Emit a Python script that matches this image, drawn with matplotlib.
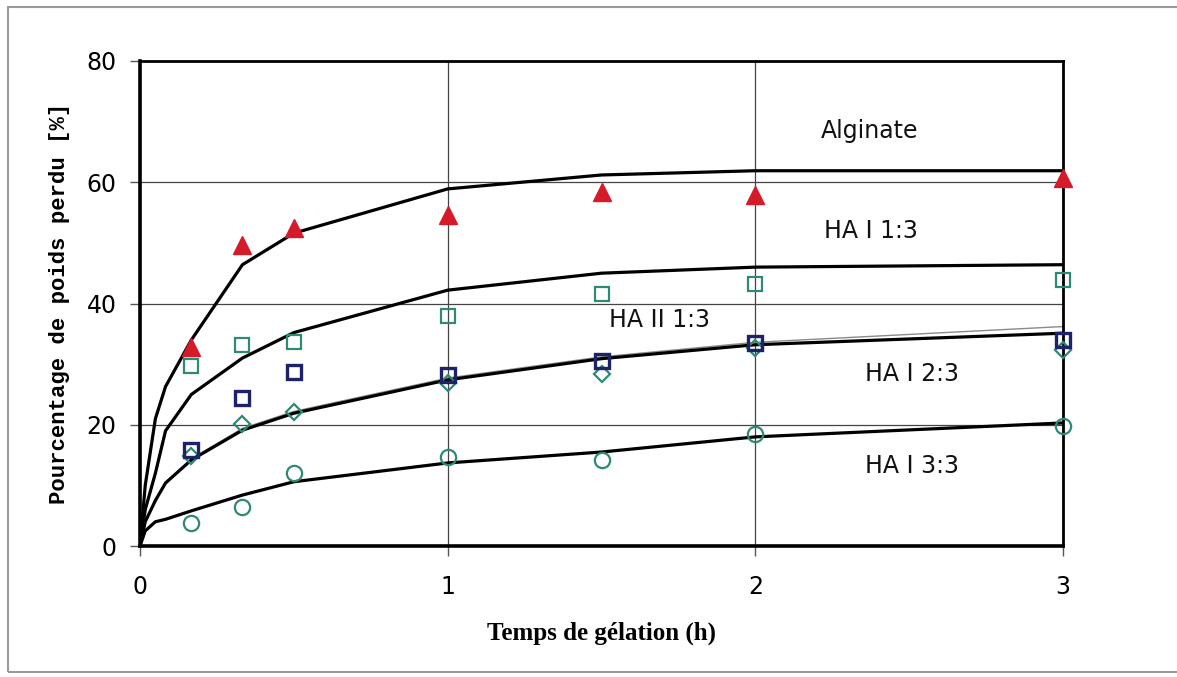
import matplotlib
matplotlib.use("Agg")
import matplotlib.pyplot as plt
from matplotlib.patches import Rectangle

# temps des mesures (h)
temps = [0.167, 0.333, 0.5, 1, 1.5, 2, 3]
alginate = [32.8, 49.7, 52.5, 54.6, 58.4, 57.9, 60.7]
ha1_13 = [29.7, 33.2, 33.7, 38.0, 41.6, 43.2, 43.9]
ha2_13 = [15.8, 24.4, 28.7, 28.2, 30.5, 33.5, 34.0]
ha1_23 = [14.9, 20.1, 22.1, 26.9, 28.4, 32.7, 32.3]
ha1_33 = [3.8, 6.4, 12.0, 14.7, 14.2, 18.5, 19.8]

# courbes du modèle
temps_mod = [0, 0.017, 0.05, 0.083, 0.167, 0.333, 0.5, 1, 1.5, 2, 3]
mod_alginate = [0, 10, 21, 26.3, 34, 46.4, 51.6, 58.9, 61.2, 61.9, 61.9]
mod_ha1_13 = [0, 6, 12, 19, 25, 31, 35.2, 42.2, 45, 46, 46.4]
mod_ha1_23 = [0, 4, 7.5, 10.4, 14.2, 19.1, 21.9, 27.4, 30.9, 33.2, 35.1]
mod_ha2_13 = [0, 4, 7.5, 10.2, 14.4, 19.4, 22.2, 27.7, 31.2, 33.6, 36.2]
mod_ha1_33 = [0, 2.5, 4.0, 4.4, 5.8, 8.4, 10.6, 13.7, 15.5, 18.0, 20.3]

teal = '#2E8A74'
navy = '#1E2266'
rouge = '#D51A2A'

fig = plt.figure(figsize=(11.77, 6.77), dpi=100)
ax = fig.add_axes([140/1177, 1-546/677, (1063-140)/1177, (546-61)/677])

# cadre extérieur
fig.patches.append(Rectangle((8/1177, 1-672/677), 1.2, (672-7)/677, transform=fig.transFigure,
                             fill=False, edgecolor='#9a9a9a', lw=1.5))

ax.grid(True, color='#444444', lw=0.9)
ax.set_axisbelow(True)

ax.plot(temps_mod, mod_ha2_13, color='#8a8a8a', lw=1.0, zorder=2)
for m in [mod_alginate, mod_ha1_13, mod_ha1_23, mod_ha1_33]:
    ax.plot(temps_mod, m, color='black', lw=2.3, zorder=3)

ax.plot(temps, ha1_33, 'o', ms=11, mfc='none', mec=teal, mew=1.6, zorder=4, clip_on=False)
ax.plot(temps, ha1_23, 'D', ms=8.5, mfc='none', mec=teal, mew=1.6, zorder=4, clip_on=False)
ax.plot(temps, ha2_13, 's', ms=10, mfc='none', mec=navy, mew=2.4, zorder=5, clip_on=False)
ax.plot(temps, ha1_13, 's', ms=10, mfc='none', mec=teal, mew=1.6, zorder=4, clip_on=False)
ax.plot(temps, alginate, '^', ms=13, color=rouge, zorder=6, clip_on=False)

lab = dict(fontsize=17, ha='center', va='center', color='#111111')
ax.text(2.37, 68.5, 'Alginate', **lab)
ax.text(2.375, 52.0, 'HA I 1:3', **lab)
ax.text(1.69, 37.3, 'HA II 1:3', **lab)
ax.text(2.51, 28.4, 'HA I 2:3', **lab)
ax.text(2.51, 13.2, 'HA I 3:3', **lab)

ax.set_xlim(0, 3)
ax.set_ylim(0, 80)
ax.set_xticks([0, 1, 2, 3])
ax.set_yticks([0, 20, 40, 60, 80])
ax.tick_params(axis='both', labelsize=17, length=7, width=1, color='#555555', pad=10)
ax.tick_params(axis='x', pad=14)
for s in ax.spines.values():
    s.set_linewidth(2)
ax.spines['left'].set_linewidth(2.6)
ax.spines['bottom'].set_linewidth(2.6)

ax.set_xlabel('Temps de gélation (h)', family='Liberation Serif', fontweight='bold',
              fontsize=18, labelpad=16)
ax.set_ylabel('Pourcentage de poids perdu [%]', family='Liberation Mono', fontweight='heavy',
              fontsize=16, labelpad=12)

fig.savefig('out.png', dpi=100)
